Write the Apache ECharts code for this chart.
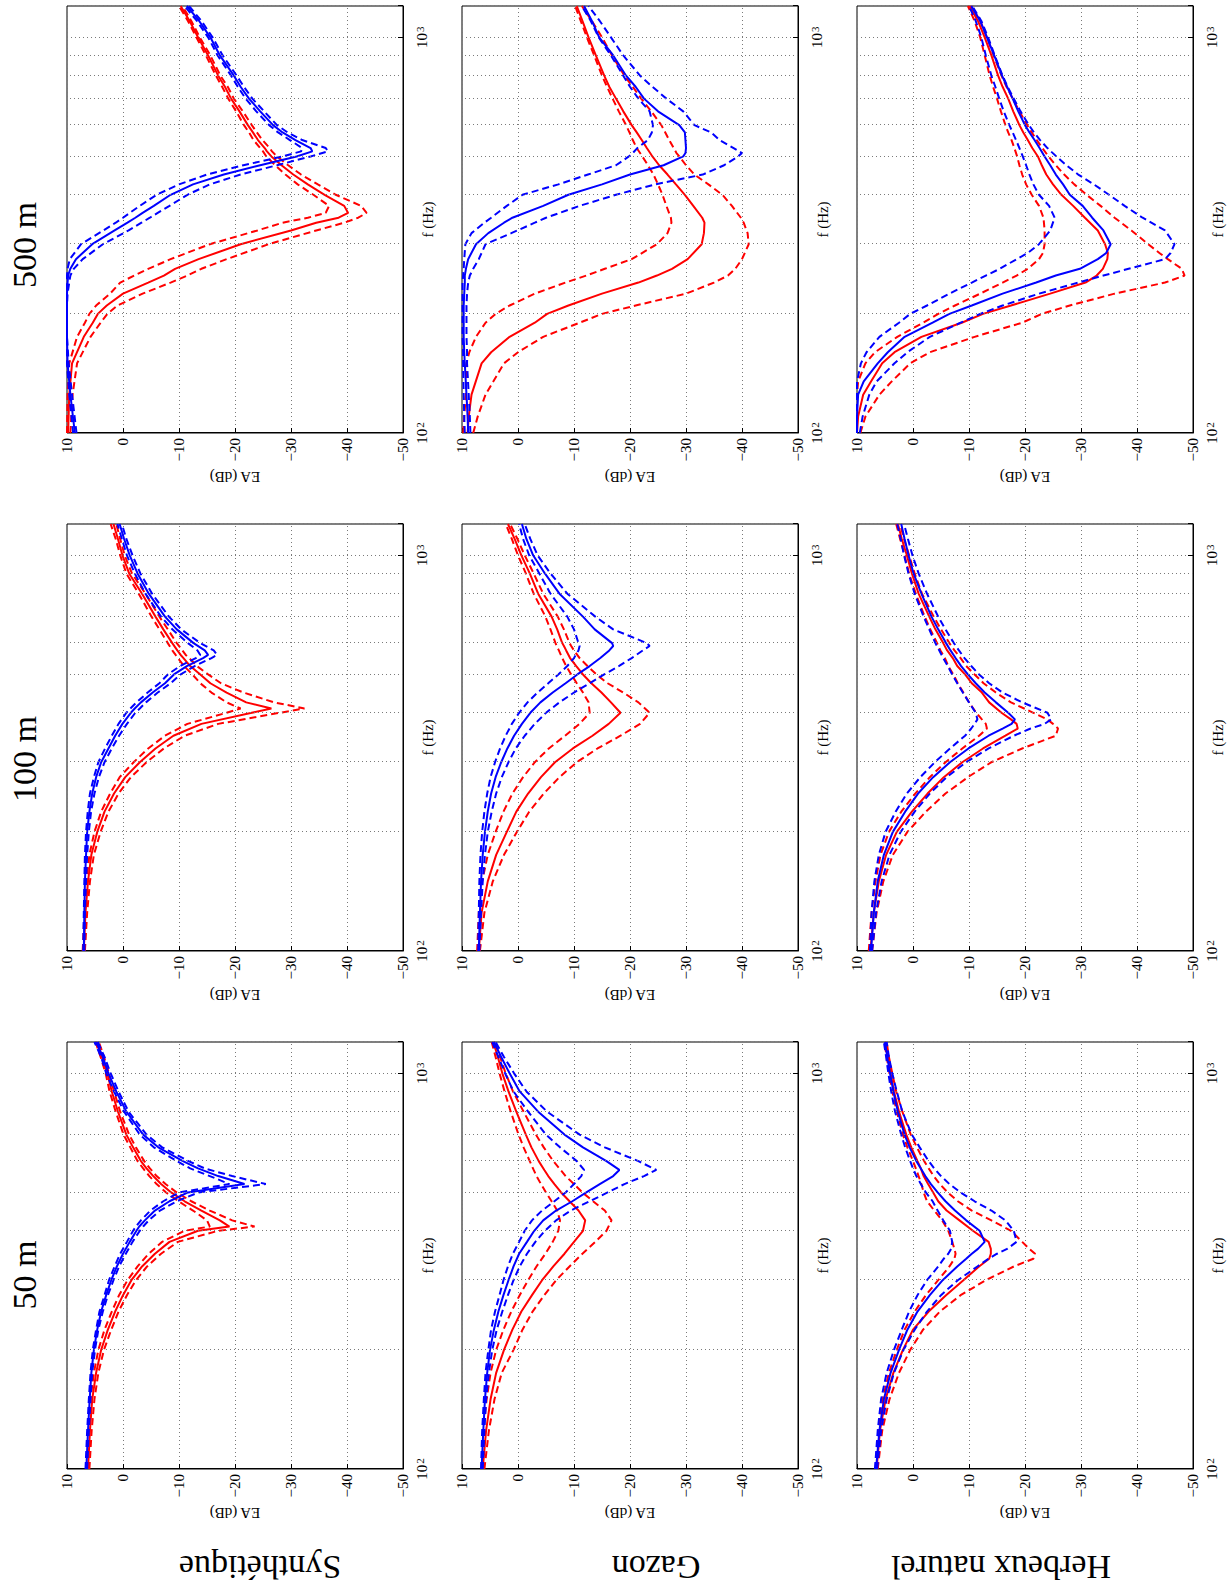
<!DOCTYPE html>
<html>
<head>
<meta charset="utf-8">
<script src="https://cdn.jsdelivr.net/npm/echarts/dist/echarts.min.js"></script>
<style>
html,body{margin:0;padding:0;width:1230px;height:1586px;overflow:hidden;background:#fff;}
#chart{position:absolute;left:0;top:0;width:1586px;height:1230px;transform-origin:0 0;transform:translate(0px,1586px) rotate(-90deg);background:#fff;}
</style>
</head>
<body>
<div id="chart"></div>
<script>
// ---------------- DATA ----------------
const distances = ['50 m', '100 m', '500 m'];
const surfaces = ['Synthétique', 'Gazon', 'Herbeux naturel'];
const eaTicks = [10, 0, -10, -20, -30, -40, -50];
const minorFreqs = [200, 300, 400, 500, 600, 700, 800, 900];

// Synthétique 50 m
const f_syn50 = [100,125,150,175,200,225,250,275,300,325,350,375,400,410,425,450,475,500,525,550,575,600,650,700,800,900,1000,1100,1200];
const red_syn50 = [6.25,5.9,5.5,4.8,3.9,2.7,1.4,0.0,-1.5,-3.4,-5.7,-8.3,-13.4,-19.0,-17.3,-14.0,-11.0,-8.6,-6.8,-5.4,-4.2,-3.2,-1.8,-0.6,0.9,2.0,2.8,3.75,4.6];
const redLo_syn50 = [6.0,5.6,5.1,4.4,3.4,2.1,0.8,-0.7,-2.3,-4.3,-6.8,-9.8,-17.0,-23.5,-19.5,-15.5,-12.2,-9.6,-7.6,-6.0,-4.8,-3.8,-2.3,-1.1,0.5,1.6,2.5,3.4,4.3];
const redHi_syn50 = [6.5,6.2,5.8,5.2,4.4,3.3,2.0,0.7,-0.8,-2.6,-4.6,-7.0,-11.0,-15.5,-15.0,-12.5,-9.9,-7.7,-6.0,-4.7,-3.6,-2.6,-1.3,-0.1,1.3,2.4,3.1,4.0,4.9];
const blue_syn50 = [6.55,6.25,5.95,5.65,5.2,4.6,3.9,3.0,2.1,1.1,0.0,-1.2,-2.4,-2.9,-3.9,-5.7,-8.3,-11.6,-21.7,-17.0,-13.4,-10.7,-6.3,-3.6,-0.6,1.2,2.6,3.6,4.8];
const blueLo_syn50 = [6.4,6.1,5.8,5.5,5.0,4.4,3.6,2.7,1.7,0.7,-0.5,-1.7,-3.0,-3.6,-4.6,-6.6,-9.6,-13.5,-25.5,-19.5,-14.6,-11.7,-7.0,-4.2,-1.0,0.8,2.2,3.3,4.5];
const blueHi_syn50 = [6.7,6.4,6.1,5.8,5.4,4.8,4.2,3.3,2.5,1.5,0.5,-0.7,-1.8,-2.3,-3.2,-4.9,-7.2,-10.0,-19.0,-15.5,-12.0,-9.6,-5.5,-3.0,-0.2,1.6,3.0,3.9,5.1];

// Synthétique 100 m
const f_syn100 = [100,125,150,175,200,225,250,275,300,325,350,375,400,410,425,450,475,500,525,550,560,575,600,650,700,800,900,1000,1100,1200];
const red_syn100 = [7.0,6.7,6.25,5.65,4.6,3.3,1.6,-0.4,-3.0,-5.8,-9.0,-14.0,-23.0,-26.5,-22.0,-18.5,-15.6,-13.8,-12.0,-10.8,-10.3,-9.7,-8.8,-7.2,-5.8,-3.4,-1.1,0.1,0.9,1.7];
const redLo_syn100 = [6.8,6.4,5.9,5.2,4.0,2.6,0.8,-1.4,-4.2,-7.3,-11.0,-17.0,-28.0,-32.4,-27.0,-21.5,-17.5,-15.2,-13.2,-11.8,-11.2,-10.6,-9.6,-8.0,-6.5,-4.0,-1.6,-0.3,0.5,1.2];
const redHi_syn100 = [7.2,6.9,6.5,6.0,5.1,3.9,2.3,0.6,-1.9,-4.5,-7.5,-11.5,-18.5,-21.0,-18.5,-15.8,-13.8,-12.4,-10.9,-9.8,-9.4,-8.8,-8.0,-6.5,-5.1,-2.8,-0.6,0.5,1.3,2.2];
const blue_syn100 = [7.0,6.9,6.8,6.6,6.4,6.0,5.5,4.8,3.9,2.6,1.4,0.1,-1.4,-2.1,-3.2,-5.3,-7.5,-9.1,-11.4,-14.3,-15.2,-14.6,-12.6,-9.6,-7.5,-4.6,-2.6,-1.2,-0.2,0.6];
const blueLo_syn100 = [6.9,6.8,6.6,6.4,6.1,5.7,5.1,4.3,3.3,2.0,0.7,-0.7,-2.2,-3.0,-4.1,-6.2,-8.5,-10.3,-12.8,-15.8,-16.8,-16.2,-13.8,-10.4,-8.2,-5.2,-3.1,-1.7,-0.6,0.2];
const blueHi_syn100 = [7.1,7.0,6.9,6.8,6.6,6.3,5.9,5.2,4.4,3.2,2.0,0.8,-0.6,-1.3,-2.4,-4.4,-6.5,-8.0,-10.2,-13.0,-13.8,-13.3,-11.6,-8.8,-6.8,-4.0,-2.1,-0.7,0.2,1.0];

// Synthétique 500 m
const f_syn500 = [100,125,150,175,190,200,210,225,240,250,260,275,300,325,340,350,360,375,400,425,450,475,500,515,525,550,575,600,650,700,750,800,900,1000,1100,1200];
const red_syn500 = [9.8,9.6,9.1,7.0,5.4,4.5,2.9,0.0,-4.5,-7.3,-9.3,-13.5,-21.0,-30.0,-34.5,-38.5,-40.2,-39.5,-36.0,-33.0,-30.4,-28.3,-26.5,-25.7,-25.3,-24.1,-23.2,-22.3,-20.8,-19.3,-18.2,-17.0,-15.2,-13.4,-11.9,-10.3];
const redLo_syn500 = [9.4,9.0,8.2,5.8,4.0,2.8,1.0,-3.5,-8.5,-11.5,-14.0,-18.5,-26.0,-34.5,-39.5,-42.0,-43.5,-42.5,-38.0,-34.8,-31.8,-29.5,-27.5,-26.6,-26.2,-24.9,-23.9,-23.0,-21.4,-19.8,-18.7,-17.4,-15.6,-13.7,-12.2,-10.6];
const redHi_syn500 = [10.0,9.9,9.6,8.2,6.8,6.0,4.8,2.3,0.5,-2.0,-4.5,-8.5,-15.5,-24.0,-28.5,-33.0,-36.2,-36.8,-34.0,-31.2,-29.0,-27.2,-25.6,-25.0,-24.5,-23.3,-22.5,-21.6,-20.2,-18.8,-17.7,-16.6,-14.8,-13.1,-11.6,-10.0];
const blue_syn500 = [8.6,9.4,9.9,10,10,10,10,10,9.9,9.8,9.4,8.4,5.5,1.5,-0.8,-2.2,-3.5,-5.5,-8.5,-12.5,-18.0,-24.5,-31.0,-33.8,-33.5,-30.8,-28.5,-26.8,-24.5,-22.5,-21.0,-19.8,-17.3,-15.6,-13.6,-11.4];
const blueLo_syn500 = [8.3,9.1,9.7,10,10,10,10,9.9,9.6,9.4,8.8,7.2,3.6,-1.0,-3.3,-4.8,-6.2,-8.3,-11.5,-15.5,-21.0,-27.5,-33.5,-36.6,-36.2,-32.0,-29.4,-27.5,-25.2,-23.1,-21.6,-20.3,-17.8,-16.0,-14.0,-11.8];
const blueHi_syn500 = [8.9,9.6,10,10,10,10,10,10,10,10,9.9,9.5,7.5,3.5,1.3,0.0,-1.2,-3.0,-6.0,-10.0,-15.0,-21.5,-28.5,-31.8,-32.0,-29.8,-27.7,-26.1,-23.8,-21.9,-20.5,-19.3,-16.9,-15.2,-13.2,-11.0];

// Gazon 50 m
const f_gaz50 = [100,125,150,175,200,225,250,275,300,325,350,375,400,425,450,475,500,525,550,570,600,650,700,800,900,1000,1100,1200];
const red_gaz50 = [6.3,5.7,4.9,3.9,2.5,1.0,-0.6,-2.5,-4.3,-6.3,-8.3,-10.0,-11.6,-12.0,-10.8,-9.2,-7.7,-6.5,-5.4,-4.7,-3.7,-2.4,-1.4,0.3,1.7,2.8,3.6,4.4];
const redLo_gaz50 = [6.0,5.2,4.2,2.9,0.8,-0.8,-2.6,-4.7,-6.8,-9.2,-11.5,-13.8,-15.8,-16.7,-15.5,-13.4,-11.5,-10.0,-8.5,-7.6,-6.3,-4.6,-3.2,-1.0,0.9,2.2,3.2,4.1];
const redHi_gaz50 = [6.5,6.2,5.6,4.9,3.9,2.6,1.2,-0.3,-1.8,-3.3,-4.9,-6.2,-7.2,-7.5,-7.0,-6.0,-5.0,-4.1,-3.3,-2.8,-2.1,-1.0,-0.1,1.3,2.4,3.3,4.0,4.7];
const blue_gaz50 = [6.5,6.2,5.9,5.5,5.0,4.3,3.5,2.6,1.7,0.8,-0.2,-1.6,-2.9,-4.5,-6.8,-9.7,-12.2,-14.6,-17.0,-18.1,-15.8,-11.6,-8.3,-3.6,-0.3,1.5,3.0,4.3];
const blueLo_gaz50 = [6.3,6.0,5.7,5.2,4.6,3.8,2.8,1.8,0.8,-0.3,-1.6,-3.1,-4.8,-6.8,-9.4,-12.8,-16.0,-19.0,-22.5,-24.7,-21.5,-15.5,-11.0,-5.2,-1.5,0.7,2.5,4.0];
const blueHi_gaz50 = [6.6,6.4,6.1,5.8,5.3,4.8,4.1,3.3,2.6,1.8,0.9,-0.2,-1.2,-2.5,-4.3,-6.5,-8.5,-10.0,-11.3,-11.8,-10.5,-7.5,-5.0,-1.8,0.8,2.3,3.5,4.6];

// Gazon 100 m
const f_gaz100 = [100,125,150,175,200,225,250,275,300,325,350,375,400,425,450,475,500,525,550,575,590,600,650,700,800,900,1000,1100,1200];
const red_gaz100 = [7.0,6.5,5.4,3.9,2.0,0.3,-1.8,-4.1,-6.6,-9.8,-13.3,-16.2,-18.3,-16.6,-14.9,-13.1,-11.6,-10.4,-9.3,-8.6,-8.2,-7.9,-7.0,-6.0,-3.6,-2.1,-0.6,0.6,1.8];
const redLo_gaz100 = [6.8,6.0,4.5,2.5,0.2,-2.0,-4.6,-7.4,-10.5,-14.2,-18.3,-21.8,-23.5,-21.5,-18.8,-16.0,-14.0,-12.4,-11.0,-10.0,-9.5,-9.2,-8.2,-7.1,-4.5,-2.8,-1.2,0.1,1.4];
const redHi_gaz100 = [7.3,7.0,6.4,5.4,4.0,2.6,1.0,-0.9,-3.0,-5.5,-8.4,-11.0,-12.8,-12.6,-11.6,-10.5,-9.5,-8.6,-7.9,-7.3,-6.9,-6.7,-5.8,-4.9,-2.8,-1.4,0.0,1.1,2.2];
const blue_gaz100 = [7.0,6.8,6.6,6.3,5.9,5.4,4.8,4.0,3.0,1.9,0.7,-0.7,-2.2,-4.0,-6.2,-8.5,-10.6,-12.8,-14.7,-16.3,-17.0,-16.8,-13.7,-11.6,-7.4,-4.8,-2.7,-1.5,-0.7];
const blueLo_gaz100 = [6.9,6.6,6.3,5.9,5.4,4.7,3.9,2.9,1.7,0.4,-1.2,-3.0,-5.0,-7.4,-10.0,-12.8,-15.4,-18.0,-20.3,-22.3,-23.5,-23.0,-17.0,-13.8,-8.8,-5.8,-3.5,-2.2,-1.2];
const blueHi_gaz100 = [7.1,7.0,6.9,6.7,6.4,6.0,5.5,4.9,4.1,3.2,2.2,1.1,-0.2,-1.7,-3.5,-5.4,-7.2,-8.8,-10.0,-10.8,-11.0,-10.8,-10.0,-8.8,-5.8,-3.8,-2.0,-0.9,-0.2];

// Gazon 500 m
const f_gaz500 = [100,110,125,150,160,175,190,200,210,225,240,250,260,275,300,320,340,350,375,400,425,450,475,500,510,525,550,575,600,650,700,750,800,900,1000,1100,1200];
const red_gaz500 = [9.0,8.8,8.3,6.5,4.8,1.5,-3.0,-5.2,-9.0,-15.0,-21.5,-24.8,-27.5,-30.3,-32.8,-33.2,-33.3,-32.9,-31.3,-29.8,-28.2,-26.7,-25.2,-24.0,-23.6,-23.0,-22.1,-21.2,-20.3,-18.8,-17.5,-16.3,-15.4,-13.9,-12.6,-11.5,-10.5];
const redLo_gaz500 = [8.0,7.2,5.8,2.5,0.0,-4.5,-11.0,-15.0,-21.0,-30.0,-35.0,-37.5,-38.8,-40.0,-41.2,-41.0,-40.3,-39.8,-38.2,-36.5,-34.0,-31.5,-30.0,-28.8,-28.3,-27.8,-27.0,-26.3,-25.6,-23.8,-22.0,-20.5,-19.0,-16.8,-15.0,-13.2,-11.4];
const redHi_gaz500 = [9.8,9.6,9.3,9.2,8.7,7.5,5.8,4.0,1.5,-3.0,-8.5,-12.2,-15.5,-20.3,-24.8,-26.7,-27.4,-27.3,-26.5,-25.8,-25.0,-24.2,-23.2,-22.2,-21.8,-21.2,-20.5,-19.9,-19.3,-18.0,-16.9,-15.9,-15.0,-13.6,-12.3,-11.2,-10.2];
const blue_gaz500 = [8.9,9.0,9.2,9.5,9.6,9.7,9.7,9.7,9.7,9.6,9.5,9.5,9.3,8.9,7.5,5.3,2.5,1.0,-4.5,-9.0,-15.0,-20.0,-26.0,-29.5,-29.9,-30.0,-29.9,-29.8,-28.8,-25.0,-22.5,-21.0,-19.3,-17.0,-14.5,-13.2,-11.8];
const blueLo_gaz500 = [8.5,8.6,8.8,9.1,9.1,9.2,9.2,9.2,9.2,9.1,8.9,8.6,8.0,7.0,5.8,1.2,-3.0,-5.0,-11.0,-17.5,-24.5,-33.0,-36.8,-39.3,-40.0,-38.5,-36.0,-34.5,-31.5,-29.5,-26.5,-24.0,-21.8,-18.8,-16.6,-14.6,-12.6];
const blueHi_gaz500 = [9.5,9.6,9.7,9.8,9.8,9.9,9.9,9.9,9.9,9.9,9.9,9.8,9.7,9.6,9.4,8.3,6.0,4.8,2.0,-0.8,-7.2,-12.5,-17.5,-19.8,-20.5,-21.3,-23.2,-23.9,-24.1,-23.5,-21.5,-20.0,-18.8,-16.6,-14.4,-13.0,-11.4];

// Herbeux naturel 50 m
const f_her50 = [100,125,150,175,200,225,250,275,300,325,340,350,360,375,400,425,450,475,500,525,550,575,600,650,700,800,900,1000,1100,1200];
const red_her50 = [6.5,5.9,4.9,3.5,1.8,0.0,-2.8,-5.9,-9.0,-11.8,-13.6,-13.9,-13.9,-13.5,-10.7,-8.3,-6.0,-4.5,-3.6,-2.7,-1.9,-1.4,-0.8,0.3,1.2,2.5,3.4,4.0,4.5,4.9];
const redLo_her50 = [6.3,5.5,4.2,2.5,0.5,-1.8,-4.8,-8.5,-13.0,-18.0,-21.5,-21.8,-20.8,-19.5,-17.5,-14.0,-10.5,-8.0,-6.2,-4.8,-3.7,-2.8,-2.0,-0.7,0.4,1.9,3.0,3.7,4.3,4.7];
const redHi_her50 = [6.7,6.2,5.4,4.3,2.9,1.5,-0.3,-2.3,-4.5,-6.5,-7.4,-7.6,-7.4,-7.0,-6.3,-5.2,-3.8,-2.5,-1.9,-1.5,-1.0,-0.5,0.0,1.0,1.8,2.9,3.7,4.2,4.7,5.1];
const blue_her50 = [6.6,6.0,5.2,4.0,2.5,1.0,-0.8,-3.0,-5.3,-7.9,-9.5,-10.5,-11.6,-12.8,-11.9,-9.5,-7.5,-5.8,-4.4,-3.2,-2.2,-1.4,-0.6,0.6,1.5,2.7,3.5,4.1,4.6,5.0];
const blueLo_her50 = [6.4,5.7,4.7,3.4,1.7,-0.3,-2.5,-5.0,-8.0,-11.5,-13.5,-15.0,-16.8,-18.5,-18.0,-16.5,-14.0,-11.0,-8.5,-6.5,-5.0,-3.8,-2.8,-1.2,0.2,1.9,2.9,3.7,4.3,4.7];
const blueHi_her50 = [6.8,6.3,5.7,4.7,3.4,2.0,0.7,-0.8,-2.5,-4.5,-5.5,-6.3,-6.8,-7.0,-6.6,-5.4,-4.4,-3.5,-2.3,-1.4,-0.6,0.0,0.5,1.4,2.1,3.2,3.9,4.4,4.8,5.2];

// Herbeux naturel 100 m
const f_her100 = [100,125,150,175,200,225,250,275,300,325,350,365,375,385,400,425,450,475,500,525,550,575,600,650,700,800,900,1000,1100,1200];
const red_her100 = [7.6,7.0,6.1,4.8,2.9,0.2,-2.6,-5.5,-8.8,-12.5,-16.5,-18.7,-18.5,-17.5,-15.8,-13.6,-12.3,-10.5,-9.3,-7.9,-7.1,-6.1,-5.4,-4.0,-2.9,-1.0,0.2,1.1,2.0,2.7];
const redLo_her100 = [7.3,6.5,5.3,3.6,1.0,-2.3,-5.8,-9.8,-14.0,-19.5,-25.5,-25.9,-25.0,-24.0,-21.5,-17.5,-14.8,-12.6,-11.0,-9.5,-8.5,-7.4,-6.5,-5.0,-3.7,-1.6,-0.3,0.7,1.6,2.3];
const redHi_her100 = [7.9,7.4,6.7,5.8,4.3,2.1,-0.4,-3.0,-5.8,-8.8,-11.8,-13.2,-13.0,-12.3,-11.3,-10.0,-9.0,-8.0,-7.2,-6.3,-5.7,-4.9,-4.3,-3.1,-2.1,-0.5,0.7,1.5,2.3,3.0];
const blue_her100 = [7.5,7.0,6.3,5.2,3.6,1.4,-0.9,-3.6,-6.6,-9.9,-13.5,-16.0,-17.6,-18.2,-17.0,-14.8,-12.8,-11.2,-9.8,-8.6,-7.6,-6.7,-5.9,-4.5,-3.3,-1.5,-0.1,0.8,1.5,2.1];
const blueLo_her100 = [7.3,6.6,5.6,4.2,2.2,-0.3,-3.0,-6.0,-9.5,-13.5,-18.0,-21.0,-23.5,-24.7,-24.0,-19.5,-16.0,-13.6,-11.8,-10.4,-9.2,-8.2,-7.3,-5.8,-4.5,-2.5,-1.0,0.1,0.9,1.6];
const blueHi_her100 = [7.7,7.4,6.9,6.1,4.9,3.1,1.1,-1.3,-3.9,-6.6,-9.3,-10.4,-11.0,-11.5,-11.2,-10.0,-8.9,-7.9,-7.0,-6.2,-5.4,-4.7,-4.0,-2.9,-1.9,-0.3,0.8,1.6,2.2,2.8];

// Herbeux naturel 500 m
const f_her500 = [100,110,125,135,150,160,175,190,200,210,225,240,250,260,275,285,300,325,350,375,400,425,450,475,500,525,550,575,600,650,700,750,800,900,1000,1100,1200];
const red_her500 = [10,9.8,8.9,7.5,5.5,3.3,-1.5,-8.7,-12.5,-17.5,-24.5,-30.8,-32.8,-33.9,-34.7,-34.8,-34.3,-33.0,-30.7,-28.6,-26.5,-25.0,-23.8,-23.0,-22.3,-21.3,-20.5,-19.7,-19.0,-17.9,-17.0,-16.0,-15.2,-14.0,-12.8,-11.6,-10.1];
const redLo_her500 = [9.4,8.5,6.0,3.8,0.5,-3.0,-11.0,-19.5,-23.0,-28.0,-36.0,-45.0,-48.5,-48.0,-45.5,-44.0,-42.0,-39.0,-36.0,-33.5,-31.0,-28.8,-27.0,-25.5,-24.2,-23.1,-22.1,-21.2,-20.4,-19.0,-17.8,-16.7,-15.8,-14.4,-13.2,-12.0,-10.4];
const redHi_her500 = [10,10,10,9.8,8.5,6.8,2.8,-1.8,-4.5,-7.5,-12.0,-16.0,-18.5,-20.5,-22.5,-23.2,-23.5,-23.5,-23.3,-22.5,-21.2,-20.2,-19.5,-19.0,-18.6,-18.1,-17.6,-17.0,-16.5,-15.7,-15.0,-14.3,-13.7,-12.8,-12.0,-11.0,-9.8];
const blue_her500 = [10,10,9.8,8.8,6.3,4.5,1.5,-3.5,-6.5,-10.5,-16.0,-22.0,-25.5,-29.8,-33.0,-34.5,-35.3,-34.0,-32.0,-30.3,-28.0,-26.8,-25.5,-24.5,-23.5,-22.6,-21.7,-20.8,-20.0,-18.8,-17.8,-16.8,-15.9,-14.5,-13.2,-12.0,-10.4];
const blueLo_her500 = [9.5,9.0,7.8,6.5,3.3,1.0,-3.0,-8.5,-12.0,-16.0,-22.5,-29.5,-34.0,-38.5,-45.0,-46.0,-46.7,-45.0,-41.0,-37.8,-35.0,-32.3,-29.5,-27.4,-25.6,-24.0,-22.7,-21.6,-20.7,-19.2,-18.0,-16.9,-16.0,-14.6,-13.4,-12.2,-10.6];
const blueHi_her500 = [10,10,10,10,9.3,8.3,6.0,2.5,0.5,-2.5,-6.5,-10.5,-13.0,-15.5,-18.5,-20.5,-22.5,-24.5,-25.3,-24.3,-22.5,-21.5,-20.8,-20.2,-19.6,-19.0,-18.4,-17.8,-17.2,-16.2,-15.4,-14.7,-14.0,-13.0,-12.2,-11.2,-10.0];

// ---------------- PANEL TABLE (built from the arrays above) ----------------
const panels = [
  {row:0, col:0, f:f_syn50,  red:red_syn50,  redLo:redLo_syn50,  redHi:redHi_syn50,  blue:blue_syn50,  blueLo:blueLo_syn50,  blueHi:blueHi_syn50},
  {row:0, col:1, f:f_syn100, red:red_syn100, redLo:redLo_syn100, redHi:redHi_syn100, blue:blue_syn100, blueLo:blueLo_syn100, blueHi:blueHi_syn100},
  {row:0, col:2, f:f_syn500, red:red_syn500, redLo:redLo_syn500, redHi:redHi_syn500, blue:blue_syn500, blueLo:blueLo_syn500, blueHi:blueHi_syn500},
  {row:1, col:0, f:f_gaz50,  red:red_gaz50,  redLo:redLo_gaz50,  redHi:redHi_gaz50,  blue:blue_gaz50,  blueLo:blueLo_gaz50,  blueHi:blueHi_gaz50},
  {row:1, col:1, f:f_gaz100, red:red_gaz100, redLo:redLo_gaz100, redHi:redHi_gaz100, blue:blue_gaz100, blueLo:blueLo_gaz100, blueHi:blueHi_gaz100},
  {row:1, col:2, f:f_gaz500, red:red_gaz500, redLo:redLo_gaz500, redHi:redHi_gaz500, blue:blue_gaz500, blueLo:blueLo_gaz500, blueHi:blueHi_gaz500},
  {row:2, col:0, f:f_her50,  red:red_her50,  redLo:redLo_her50,  redHi:redHi_her50,  blue:blue_her50,  blueLo:blueLo_her50,  blueHi:blueHi_her50},
  {row:2, col:1, f:f_her100, red:red_her100, redLo:redLo_her100, redHi:redHi_her100, blue:blue_her100, blueLo:blueLo_her100, blueHi:blueHi_her100},
  {row:2, col:2, f:f_her500, red:red_her500, redLo:redLo_her500, redHi:redHi_her500, blue:blue_her500, blueLo:blueLo_her500, blueHi:blueHi_her500}
];

// ---------------- LAYOUT / STYLE ----------------
const FONT = '"Liberation Serif", "Times New Roman", serif';
const gridLeft = [117, 635, 1153];
const gridTop = [67, 462, 857];
const gridW = 427, gridH = 336;
const RED = '#ff0000', BLUE = '#0000ff';
const DASH = [7, 4];
const LW = 2;
const gridLineStyle = {color: '#7a7a7a', type: [1, 3], width: 1};

function pairs(f, v) {
  const n = Math.min(f.length, v.length);
  const out = [];
  for (let i = 0; i < n; i++) out.push([f[i], v[i]]);
  return out;
}
function fmtEA(v) { return v < 0 ? '\u2212' + (-v) : String(v); }
function fmtF(v) {
  const l = Math.log10(v), e = Math.round(l);
  return Math.abs(l - e) < 1e-6 ? '10{e|' + e + '}' : '';
}

const grids = [], xAxes = [], yAxes = [], series = [];
panels.forEach((p, i) => {
  grids.push({
    left: gridLeft[p.col], top: gridTop[p.row], width: gridW, height: gridH,
    show: true, borderColor: '#000', borderWidth: 1, backgroundColor: '#fff',
    containLabel: false, outerBoundsMode: 'none'
  });
  xAxes.push({
    type: 'log', logBase: 10, min: 100, max: 1200, gridIndex: i,
    name: 'f (Hz)', nameLocation: 'middle', nameGap: 17, nameMoveOverlap: false,
    nameTextStyle: {fontFamily: FONT, fontSize: 15, color: '#000'},
    axisLine: {show: true, onZero: false, lineStyle: {color: '#000', width: 1}},
    axisTick: {show: true, inside: true, length: 5, lineStyle: {color: '#000'}},
    axisLabel: {
      formatter: fmtF, margin: 11, fontFamily: FONT, fontSize: 15, color: '#000',
      rich: {e: {fontFamily: FONT, fontSize: 11, color: '#000', verticalAlign: 'top', padding: [0, 0, 0, 1]}}
    },
    splitLine: {show: true, lineStyle: gridLineStyle},
    minorTick: {show: false}, minorSplitLine: {show: false}
  });
  yAxes.push({
    type: 'value', min: -50, max: 10, interval: 10, gridIndex: i,
    name: 'EA (dB)', nameLocation: 'middle', nameGap: 36, nameRotate: 90, nameMoveOverlap: false,
    nameTextStyle: {fontFamily: FONT, fontSize: 15, color: '#000'},
    axisLine: {show: true, onZero: false, lineStyle: {color: '#000', width: 1}},
    axisTick: {show: true, inside: true, length: 5, lineStyle: {color: '#000'}},
    axisLabel: {formatter: fmtEA, margin: 5, fontFamily: FONT, fontSize: 15, color: '#000'},
    splitLine: {show: true, lineStyle: gridLineStyle}
  });
  // minor frequency grid lines (dotted), placed through the log axis
  series.push({
    type: 'line', xAxisIndex: i, yAxisIndex: i, data: [], silent: true, z: 1,
    markLine: {
      silent: true, symbol: ['none', 'none'], animation: false,
      label: {show: false}, lineStyle: gridLineStyle,
      emphasis: {disabled: true},
      data: minorFreqs.map(f => ({xAxis: f}))
    }
  });
  const curves = [
    [p.redLo, RED, DASH], [p.redHi, RED, DASH], [p.red, RED, 'solid'],
    [p.blueLo, BLUE, DASH], [p.blueHi, BLUE, DASH], [p.blue, BLUE, 'solid']
  ];
  curves.forEach(([vals, color, type]) => {
    series.push({
      type: 'line', xAxisIndex: i, yAxisIndex: i, z: 3,
      data: pairs(p.f, vals), symbol: 'none', showSymbol: false, silent: true,
      clip: true, smooth: false,
      lineStyle: {color: color, width: LW, type: type}
    });
  });
});

const titleX = [311, 827, 1341];
const rowY = [260, 656, 1001];
const graphics = [];
distances.forEach((t, c) => graphics.push({
  type: 'text', x: titleX[c], y: 24, silent: true,
  style: {text: t, font: '34px ' + FONT, fill: '#000', textAlign: 'center', textVerticalAlign: 'middle', align: 'center', verticalAlign: 'middle'}
}));
surfaces.forEach((t, r) => graphics.push({
  type: 'text', x: 19, y: rowY[r], rotation: Math.PI / 2, silent: true,
  style: {text: t, font: '34px ' + FONT, fill: '#000', textAlign: 'center', textVerticalAlign: 'middle', align: 'center', verticalAlign: 'middle'}
}));

const chart = echarts.init(document.getElementById('chart'), null, {renderer: 'svg', width: 1586, height: 1230});
chart.setOption({
  animation: false,
  backgroundColor: '#fff',
  textStyle: {fontFamily: FONT},
  grid: grids, xAxis: xAxes, yAxis: yAxes, series: series,
  graphic: graphics
});
</script>
</body>
</html>
